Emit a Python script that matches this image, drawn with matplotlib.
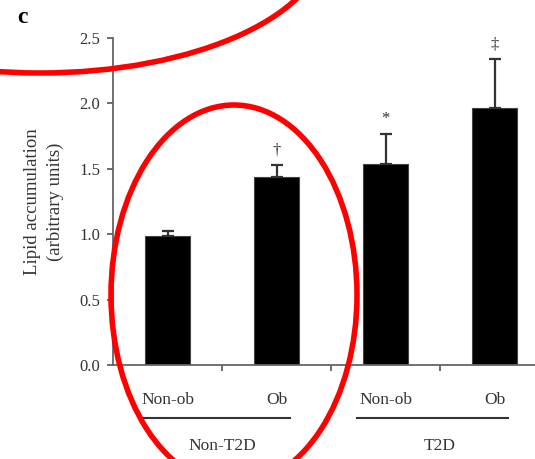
import matplotlib
matplotlib.use('Agg')
import matplotlib.pyplot as plt
from matplotlib.patches import Ellipse
import matplotlib.transforms as mtransforms

# lipid accumulation per group (mean, upper SEM)
groups = ['Non-T2D', 'T2D']
sub_labels = ['Non-ob', 'Ob', 'Non-ob', 'Ob']
means = [0.99, 1.44, 1.535, 1.963]
errs = [0.035, 0.087, 0.231, 0.374]
marks = ['', '\u2020', '*', '\u2021']
yticks = [0.0, 0.5, 1.0, 1.5, 2.0, 2.5]

plt.rcParams['font.family'] = ['Liberation Serif', 'DejaVu Serif']

fig = plt.figure(figsize=(5.35, 4.59), dpi=100)
ax = fig.add_axes([0.2112, 0.2048, 0.7888, 0.7124])

x = [0.5, 1.5, 2.5, 3.5]
ax.bar(x, means, width=0.41, color='black', edgecolor='#444444', linewidth=0.8, zorder=2)
ax.errorbar(x, means, yerr=[[0] * 4, errs], fmt='none', ecolor='#333333',
            elinewidth=1.6, capsize=4, capthick=1.6, zorder=3)
for xi, m, e, s in zip(x, means, errs, marks):
    if s:
        ax.text(xi, m + e + 0.05, s, ha='center', va='bottom', fontsize=12, color='#333333')

ax.set_xlim(0, 3.87)
ax.set_ylim(0, 2.5)
ax.set_yticks(yticks)
ax.set_yticklabels(['%.1f' % t for t in yticks], fontsize=12, color='#333333')
ax.set_xticks([1, 2, 3])
ax.set_xticklabels([])
ax.tick_params(axis='both', direction='out', length=4, width=1.2, color='#555555')
ax.tick_params(axis='y', pad=5)
for side in ['top', 'right']:
    ax.spines[side].set_visible(False)
for side in ['left', 'bottom']:
    ax.spines[side].set_color('#666666')
    ax.spines[side].set_linewidth(1.3)

ax.set_ylabel('Lipid accumulation\n(arbitrary units)', fontsize=13.5, color='#333333',
              labelpad=11, linespacing=1.45)

# group labels below the axis
trans = mtransforms.blended_transform_factory(ax.transData, ax.transAxes)
for xi, lab in zip(x, sub_labels):
    ax.text(xi, -0.107, lab, transform=trans, ha='center', va='center',
            fontsize=12.5, color='#333333')
for gi, g in enumerate(groups):
    c = 1.0 + 2 * gi
    ax.plot([c - 0.76, c + 0.62], [-0.162, -0.162], transform=trans, color='#333333',
            linewidth=1.5, clip_on=False)
    ax.text(c, -0.248, g, transform=trans, ha='center', va='center',
            fontsize=12.5, color='#333333')

fig.text(0.042, 0.962, 'c', fontsize=17, fontweight='bold', ha='center', va='center')

# red hand-drawn highlight rings, in pixel space
ov = fig.add_axes([0, 0, 1, 1], facecolor='none')
ov.set_xlim(0, 535)
ov.set_ylim(459, 0)
ov.axis('off')
ov.add_patch(Ellipse((234, 295), 246, 380, fill=False, edgecolor='#ff0000', linewidth=4))
ov.add_patch(Ellipse((40, -60), 572, 266, fill=False, edgecolor='#ff0000', linewidth=4))

fig.savefig('out.png', dpi=100)
